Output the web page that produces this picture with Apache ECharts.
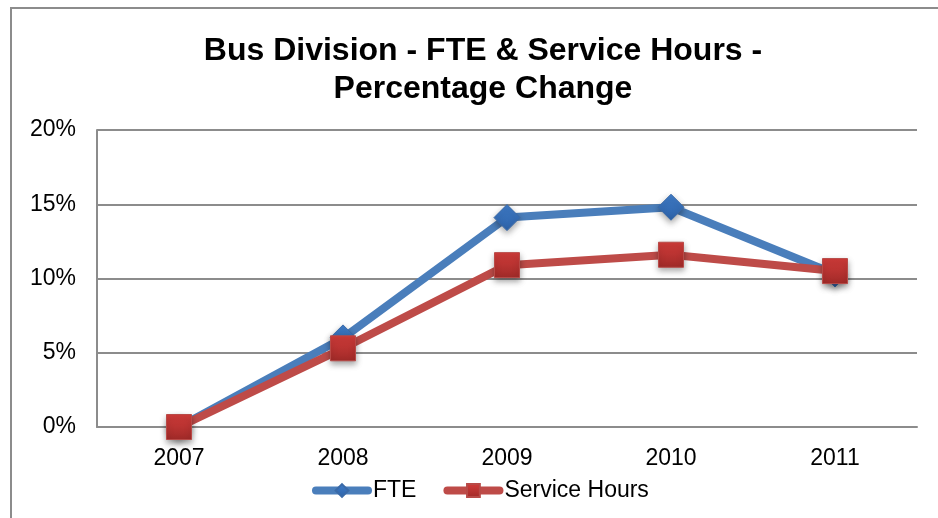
<!DOCTYPE html>
<html>
<head>
<meta charset="utf-8">
<script src="https://cdn.jsdelivr.net/npm/echarts@6/dist/echarts.min.js"></script>
<style>
  html, body { margin: 0; padding: 0; background: #fff; }
  #main { width: 938px; height: 518px; }
</style>
</head>
<body>
<div id="main"></div>
<script>
// data
const years = ['2007', '2008', '2009', '2010', '2011'];
const fte = [0, 6.0, 14.1, 14.8, 10.3];
const serviceHours = [0, 5.3, 10.9, 11.6, 10.5];
const yTicks = [0, 5, 10, 15, 20];

const Chart = echarts.init(document.getElementById('main'));

const font = 'Liberation Sans, Arial, sans-serif';

const option = {
  animation: false,
  backgroundColor: '#fff',
  title: {
    text: 'Bus Division - FTE & Service Hours -\nPercentage Change',
    left: 478,
    textAlign: 'center',
    top: 27,
    textStyle: {
      fontFamily: font,
      fontSize: 32,
      fontWeight: 'bold',
      color: '#000',
      lineHeight: 38
    }
  },
  // outer chart border
  graphic: [{
    type: 'rect',
    shape: { x: 11, y: 8, width: 940, height: 520 },
    style: { fill: 'none', stroke: '#8c8c8c', lineWidth: 2 },
    silent: true
  }],
  legend: {
    bottom: 11,
    left: 307,
    itemWidth: 52,
    itemHeight: 16,
    itemGap: 27,
    textStyle: { fontFamily: font, fontSize: 23, color: '#000' },
    data: [
      { name: 'FTE', lineStyle: { width: 8, cap: 'round' } },
      { name: 'Service Hours', lineStyle: { width: 8, cap: 'round' } }
    ]
  },
  grid: {
    left: 97,
    right: 21,
    top: 130,
    bottom: 91
  },
  xAxis: {
    type: 'category',
    data: years,
    boundaryGap: true,
    axisLine: { lineStyle: { color: '#8c8c8c', width: 2 } },
    axisTick: { show: false },
    axisLabel: { fontFamily: font, fontSize: 23, color: '#000', margin: 20 }
  },
  yAxis: {
    type: 'value',
    min: yTicks[0],
    max: yTicks[yTicks.length - 1],
    interval: 5,
    axisLine: { show: true, lineStyle: { color: '#8c8c8c', width: 2 } },
    axisTick: { show: false },
    splitLine: { lineStyle: { color: '#8c8c8c', width: 2 } },
    axisLabel: {
      fontFamily: font, fontSize: 23, color: '#000', margin: 21,
      formatter: function (v) { return v + '%'; }
    }
  },
  series: [
    {
      name: 'FTE',
      type: 'line',
      data: fte,
      symbol: 'diamond',
      symbolSize: 26,
      lineStyle: { color: '#4a7ebb', width: 8 },
      itemStyle: {
        color: new echarts.graphic.LinearGradient(0, 0, 0, 1, [
          { offset: 0, color: '#3f7cc8' },
          { offset: 1, color: '#2d62a8' }
        ]),
        borderColor: '#3a6aa8',
        borderWidth: 1,
        shadowColor: 'rgba(0,0,0,0.35)',
        shadowBlur: 6,
        shadowOffsetY: 3
      },
      z: 2
    },
    {
      name: 'Service Hours',
      type: 'line',
      data: serviceHours,
      symbol: 'rect',
      symbolSize: 25,
      lineStyle: { color: '#be4b48', width: 8 },
      itemStyle: {
        color: new echarts.graphic.LinearGradient(0, 0, 0, 1, [
          { offset: 0, color: '#d23c3a' },
          { offset: 1, color: '#a02a28' }
        ]),
        borderColor: '#b84a47',
        borderWidth: 1,
        shadowColor: 'rgba(0,0,0,0.35)',
        shadowBlur: 6,
        shadowOffsetY: 3
      },
      z: 3
    }
  ]
};

Chart.setOption(option);
</script>
</body>
</html>
